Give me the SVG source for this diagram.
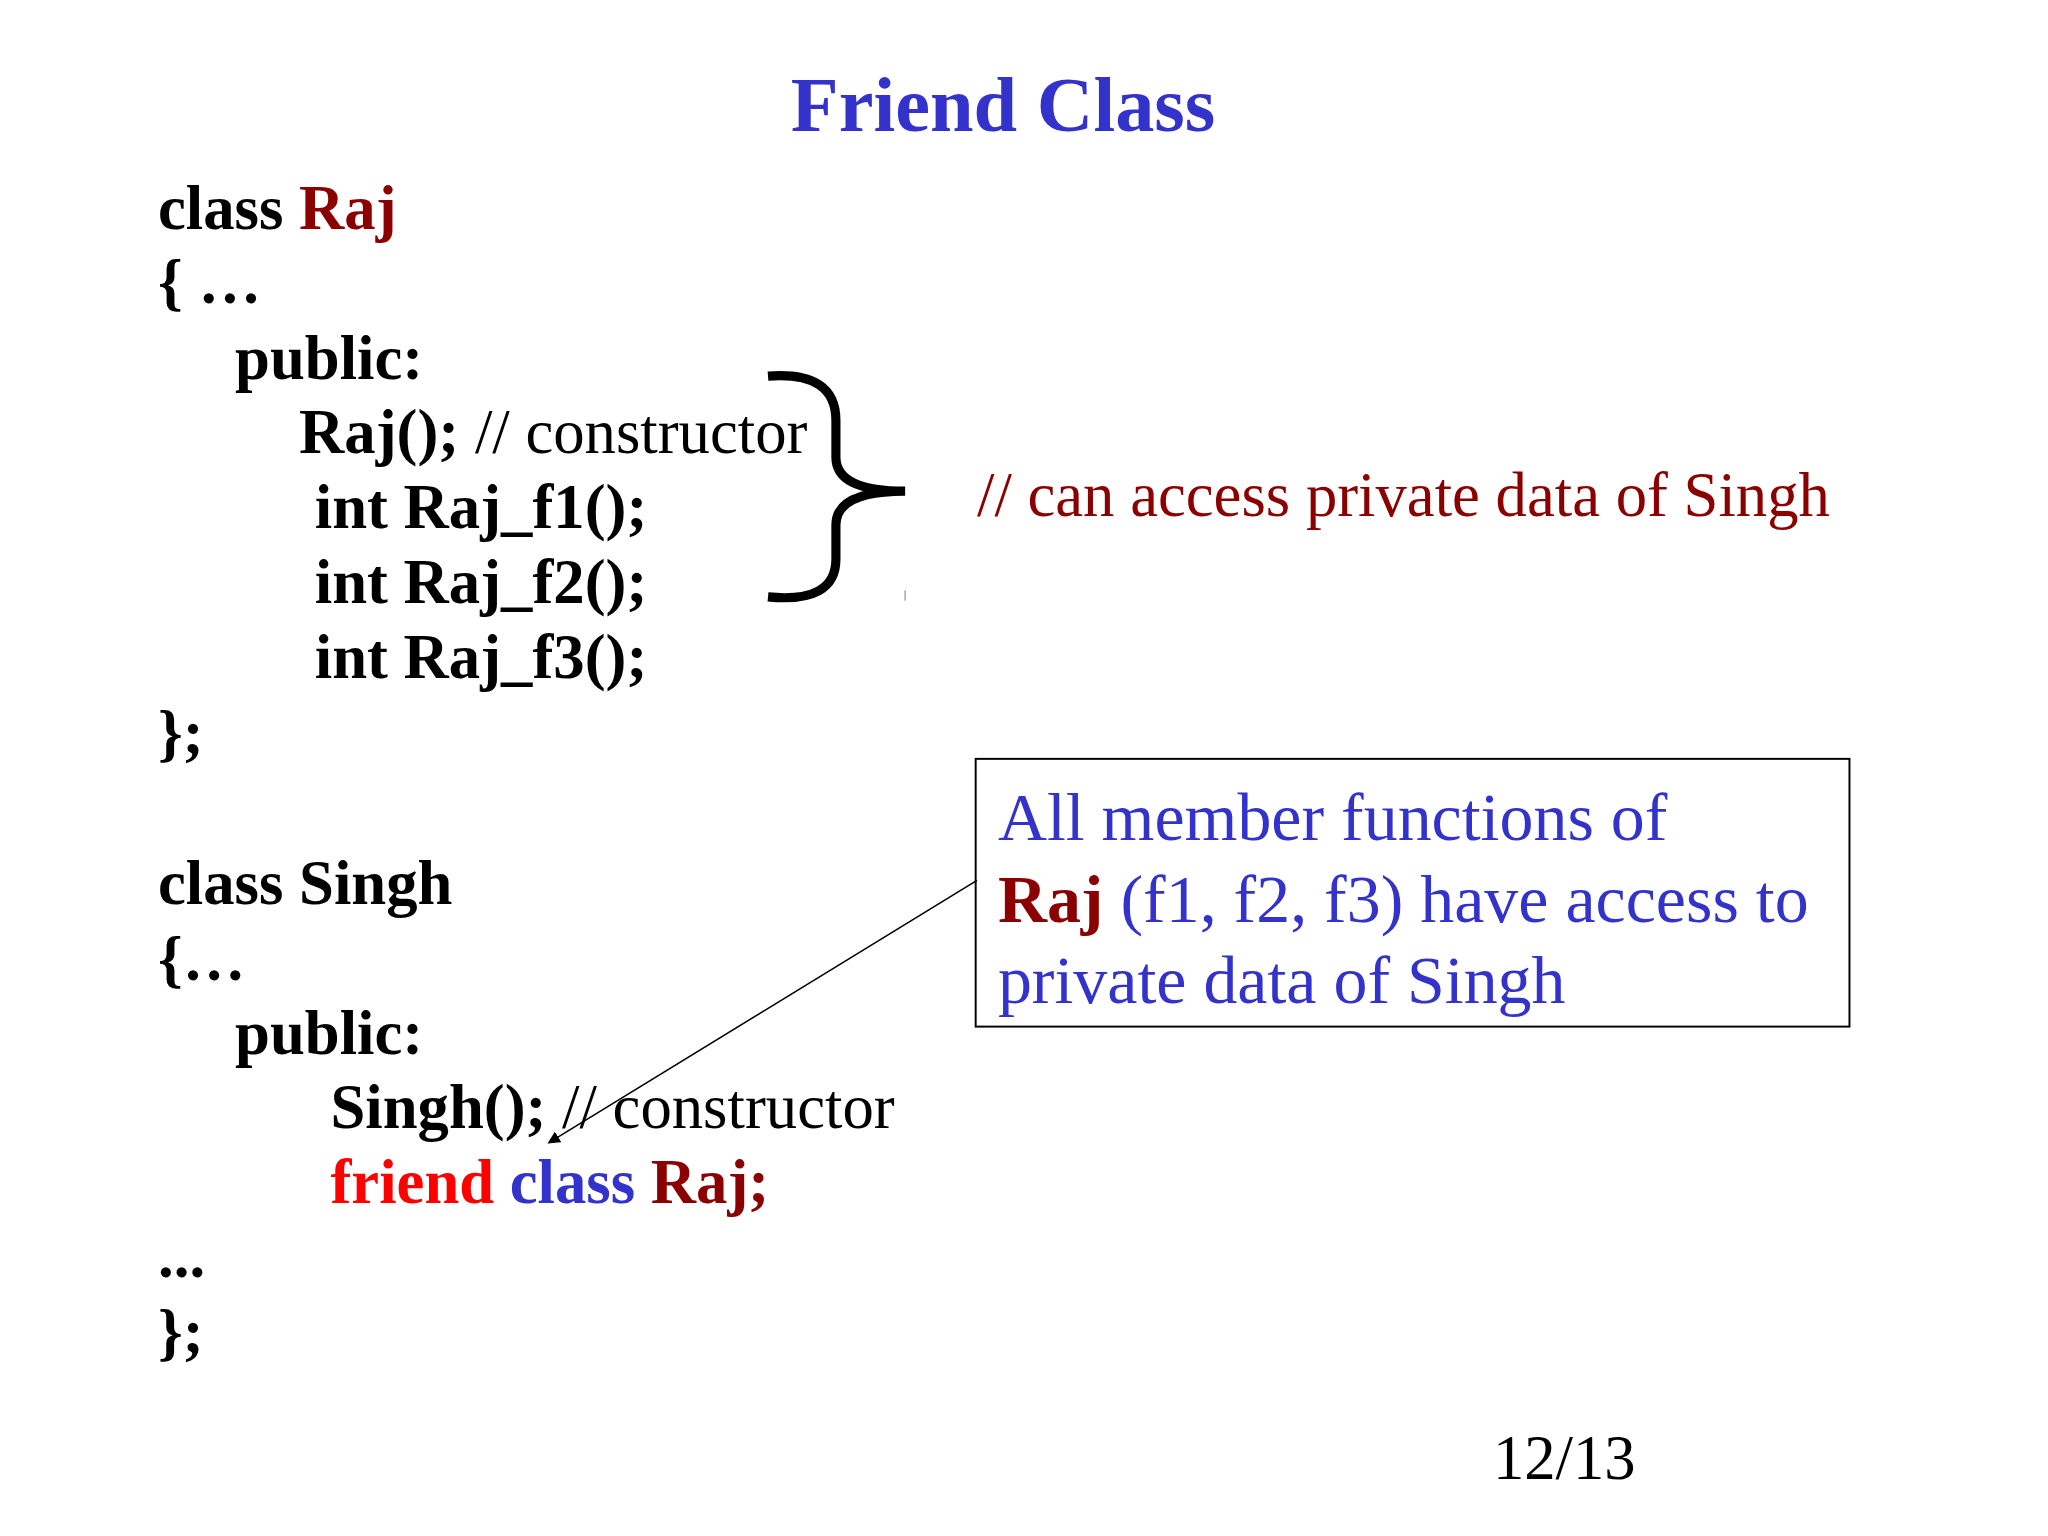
<svg xmlns="http://www.w3.org/2000/svg" width="2048" height="1536" viewBox="0 0 2048 1536">
<defs>
<style>
text{font-family:"Liberation Serif","Times New Roman",serif;font-size:48px;fill:#000}
.b{font-weight:bold}
.dr{fill:#8B0000}
.bl{fill:#3333CC}
.rd{fill:#FF0000}
.box{font-size:52px}
</style>
<marker id="ah" viewBox="0 0 10 10" refX="9" refY="5" markerWidth="8" markerHeight="8" orient="auto"><path d="M0,0 L10,5 L0,10 z" fill="#000"/></marker>
</defs>
<rect width="2048" height="1536" fill="#fff"/>
<g transform="scale(1.30612)">
<g id="title"><text x="768" y="100" text-anchor="middle" class="b bl" style="font-size:60px">Friend Class</text></g>
<g id="code">
<text x="121" y="175" class="b">class <tspan class="dr">Raj</tspan></text>
<text x="121" y="232" class="b">{ …</text>
<text x="180" y="290" class="b">public:</text>
<text x="229" y="347"><tspan class="b">Raj();</tspan> // constructor</text>
<text x="241" y="404" class="b">int Raj_f1();</text>
<text x="241" y="462" class="b">int Raj_f2();</text>
<text x="241" y="519" class="b">int Raj_f3();</text>
<text x="121" y="577" class="b">};</text>
<text x="121" y="692" class="b">class Singh</text>
<text x="121" y="750" class="b">{…</text>
<text x="180" y="807" class="b">public:</text>
<text x="253" y="864"><tspan class="b">Singh();</tspan> // constructor</text>
<text x="253" y="921" class="b"><tspan class="rd">friend</tspan> <tspan class="bl">class</tspan> <tspan class="dr">Raj;</tspan></text>
<text x="121" y="978" class="b">...</text>
<text x="121" y="1036" class="b">};</text>
</g>
<g id="brace">
<path d="M588,288 Q640,284 640,322 L640,350 Q640,376 693,376 Q640,376 640,402 L640,428 Q640,462 588,457" fill="none" stroke="#000" stroke-width="7"/>
<line x1="693" y1="452" x2="693" y2="460" stroke="#999" stroke-width="1"/>
</g>
<g id="comment"><text x="748" y="395" class="dr">// can access private data of Singh</text></g>
<g id="note">
<rect x="747" y="581" width="669" height="205" fill="none" stroke="#000" stroke-width="1.5"/>
<text x="764" y="643" class="bl box">All member functions of</text>
<text x="764" y="706" class="bl box"><tspan class="b dr">Raj</tspan> (f1, f2, f3) have access to</text>
<text x="764" y="768" class="bl box">private data of Singh</text>
</g>
<g id="connectors"><line x1="748" y1="674" x2="420" y2="875" stroke="#000" stroke-width="1.2" marker-end="url(#ah)"/></g>
<g id="page"><text x="1143" y="1132">12/13</text></g>
</g>
</svg>
